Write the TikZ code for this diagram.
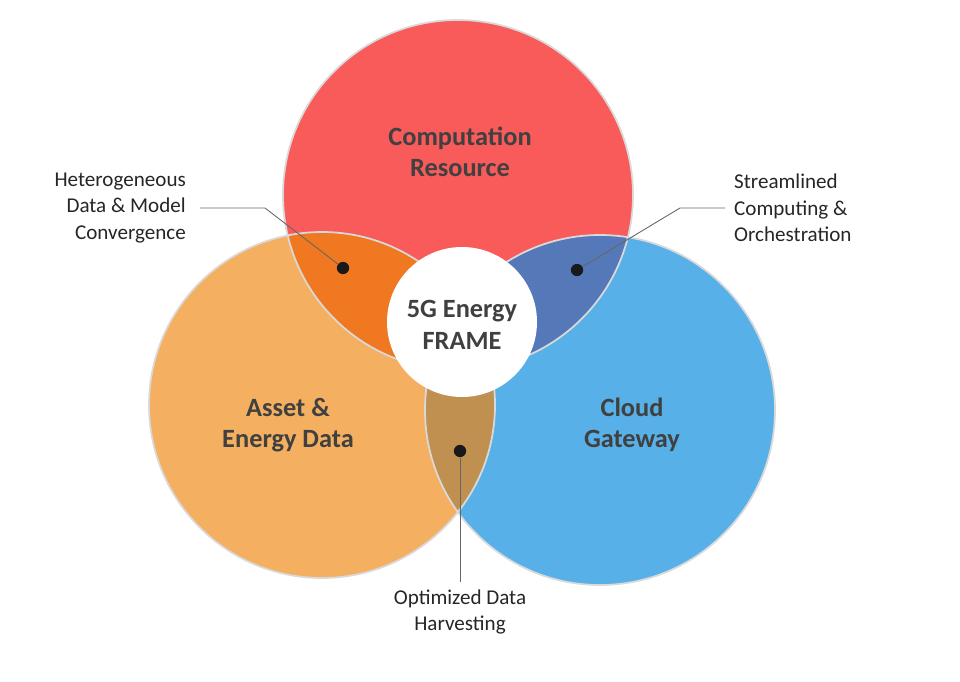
\documentclass[tikz,border=0pt]{standalone}
\usepackage{fontspec}
\setmainfont{Carlito}
\begin{document}
\begin{tikzpicture}[x=0.02cm,y=-0.02cm,
  big/.style={font=\fontsize{15}{18}\selectfont\bfseries, text=black!75, align=center},
  lab/.style={font=\fontsize{12}{15}\selectfont, text=black!85},
  lead/.style={draw=black!60, line width=0.5pt},
  dot/.style={circle, fill=black!90, inner sep=0pt, minimum size=7pt}]
\useasboundingbox (0,0) rectangle (960,682);
\def\red{(458,195) circle (175)}
\def\org{(322,405) circle (173)}
\def\blu{(600,410) circle (175)}
\fill[fill={rgb,255:red,249;green,90;blue,90}] \red;
\fill[fill={rgb,255:red,244;green,176;blue,96}] \org;
\fill[fill={rgb,255:red,87;green,176;blue,232}] \blu;
\begin{scope}\clip \red; \fill[fill={rgb,255:red,240;green,120;blue,32}] \org; \end{scope}
\begin{scope}\clip \red; \fill[fill={rgb,255:red,85;green,120;blue,184}] \blu; \end{scope}
\begin{scope}\clip \org; \fill[fill={rgb,255:red,192;green,144;blue,80}] \blu; \end{scope}
\draw[white!85!black, line width=1pt] \red \org \blu;
\node[circle, fill=white, minimum size=150*0.02cm, inner sep=0pt] (c) at (462,322) {};
\node[big] (ct) at (462,325) {5G Energy\\FRAME};
\node[big] (r) at (460,152) {Computation\\Resource};
\node[big] (o) at (288,425) {Asset \&\\Energy Data};
\node[big] (b) at (632,425) {Cloud\\Gateway};
\node[dot] (d1) at (343,268) {};
\node[dot] (d2) at (577,270) {};
\node[dot] (d3) at (460,451) {};
\coordinate (k1) at (265,208); \coordinate (e1) at (200,208);
\coordinate (k2) at (680,208); \coordinate (e2) at (725,208);
\coordinate (e3) at (460,582);
\draw[lead] (d1) -- (k1) -- (e1);
\draw[lead] (d2) -- (k2) -- (e2);
\draw[lead] (d3) -- (e3);
\node[lab, align=right, anchor=east] (l1) at (192,208) {Heterogeneous\\Data \& Model\\Convergence};
\node[lab, align=left, anchor=west] (l2) at (728,208) {Streamlined\\Computing \&\\Orchestration};
\node[lab, align=center] (l3) at (460,612) {Optimized Data\\Harvesting};
\end{tikzpicture}
\end{document}
